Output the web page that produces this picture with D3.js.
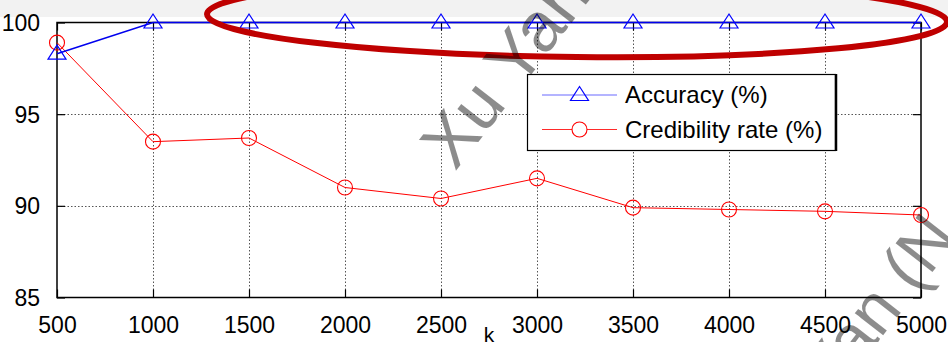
<!DOCTYPE html>
<html>
<head>
<meta charset="utf-8">
<script src="https://cdn.jsdelivr.net/npm/d3@7"></script>
<style>
  html, body { margin: 0; padding: 0; background: #fff; }
  svg { display: block; font-family: "Liberation Sans", Arial, sans-serif; }
</style>
</head>
<body>
<svg id="chart" width="948" height="342"></svg>
<script>
// Sample sizes k and the two measured rates (%)
const kValues = [500, 1000, 1500, 2000, 2500, 3000, 3500, 4000, 4500, 5000];
const accuracy = [98.3, 100, 100, 100, 100, 100, 100, 100, 100, 100];
const credibility = [98.9, 93.5, 93.7, 91.0, 90.4, 91.5, 89.9, 89.8, 89.7, 89.5];
const yTicks = [85, 90, 95, 100];
const seriesNames = ["Accuracy (%)", "Credibility rate (%)"];
const xTitle = "k";
const watermark = "Xu Yan";
const watermark2 = "Xu Yan (N";

const W = 948, H = 342;
const plot = { left: 57, right: 921, top: 22.5, bottom: 297.5 };

const svg = d3.select("#chart");

// faint grey strip along the top edge
svg.append("rect").attr("x", 0).attr("y", 0).attr("width", W).attr("height", 17).attr("fill", "#f2f2f2");

const x = d3.scaleLinear().domain([500, 5000]).range([plot.left, plot.right]);
const y = d3.scaleLinear().domain([85, 100]).range([plot.bottom, plot.top]);

// dotted grid
const grid = svg.append("g").attr("stroke", "#555").attr("stroke-width", 1).attr("stroke-dasharray", "1.5,2");
grid.selectAll("line.vx").data(kValues.slice(1, -1)).join("line")
  .attr("x1", d => Math.round(x(d)) + 0.5).attr("x2", d => Math.round(x(d)) + 0.5)
  .attr("y1", plot.top).attr("y2", plot.bottom);
grid.selectAll("line.hy").data(yTicks.slice(1, -1)).join("line")
  .attr("y1", d => Math.round(y(d)) + 0.5).attr("y2", d => Math.round(y(d)) + 0.5)
  .attr("x1", plot.left).attr("x2", plot.right);

// frame with inward ticks on all four sides
const tickLen = 8;
const axB = d3.axisBottom(x).tickValues(kValues).tickSize(-tickLen).tickPadding(tickLen + 11).tickFormat(d3.format("d"));
const axL = d3.axisLeft(y).tickValues(yTicks).tickSize(-tickLen).tickPadding(tickLen + 9);
const axT = d3.axisTop(x).tickValues(kValues).tickSize(-tickLen).tickFormat("");
const axR = d3.axisRight(y).tickValues(yTicks).tickSize(-tickLen).tickFormat("");

function styleAxis(g) {
  g.select(".domain").remove();
  g.selectAll(".tick line").attr("stroke", "#000").attr("stroke-width", 1.2);
  g.selectAll(".tick text").attr("fill", "#000").attr("font-size", 23).attr("font-family", "Liberation Sans, Arial, sans-serif");
}
svg.append("g").attr("transform", `translate(0,${plot.bottom})`).call(axB).call(styleAxis);
svg.append("g").attr("transform", `translate(${plot.left},0)`).call(axL).call(styleAxis)
  .selectAll(".tick text").attr("dy", "0.35em");
svg.append("g").attr("transform", `translate(0,${plot.top})`).call(axT).call(styleAxis);
svg.append("g").attr("transform", `translate(${plot.right},0)`).call(axR).call(styleAxis);

svg.append("rect")
  .attr("x", plot.left).attr("y", plot.top)
  .attr("width", plot.right - plot.left).attr("height", plot.bottom - plot.top)
  .attr("fill", "none").attr("stroke", "#000").attr("stroke-width", 1.5);

svg.append("text").attr("x", (plot.left + plot.right) / 2).attr("y", 342)
  .attr("text-anchor", "middle").attr("font-size", 21).attr("fill", "#000").text(xTitle);

// series
const line = d3.line().x(d => x(d[0])).y(d => y(d[1]));
const accPts = kValues.map((k, i) => [k, accuracy[i]]);
const credPts = kValues.map((k, i) => [k, credibility[i]]);

const triPath = "M0,-8.5 L9,5.5 L-9,5.5 Z";

svg.append("path").datum(credPts).attr("d", line).attr("fill", "none").attr("stroke", "#ff0000").attr("stroke-width", 1);
svg.append("g").selectAll("circle").data(credPts).join("circle")
  .attr("cx", d => x(d[0])).attr("cy", d => y(d[1])).attr("r", 7.5)
  .attr("fill", "none").attr("stroke", "#ff0000").attr("stroke-width", 1.1);

svg.append("path").datum(accPts).attr("d", line).attr("fill", "none").attr("stroke", "#0000ee").attr("stroke-width", 1.5);
svg.append("g").selectAll("path").data(accPts).join("path")
  .attr("transform", d => `translate(${x(d[0])},${y(d[1])})`).attr("d", triPath)
  .attr("fill", "none").attr("stroke", "#0000ff").attr("stroke-width", 1.2);

// legend
const lg = svg.append("g");
lg.append("rect").attr("x", 527.5).attr("y", 74.5).attr("width", 308).attr("height", 76)
  .attr("fill", "#fff").attr("stroke", "#000").attr("stroke-width", 1.2);
lg.append("line").attr("x1", 836).attr("x2", 836).attr("y1", 74).attr("y2", 151).attr("stroke", "#000").attr("stroke-width", 2.5);
const legendRows = [
  { name: seriesNames[0], color: "#0000ff", lineColor: "#6b6bff", marker: "tri", cy: 95 },
  { name: seriesNames[1], color: "#ff0000", lineColor: "#ff2a2a", marker: "circ", cy: 129.5 }
];
legendRows.forEach(r => {
  lg.append("line").attr("x1", 542).attr("x2", 617).attr("y1", r.cy).attr("y2", r.cy)
    .attr("stroke", r.lineColor).attr("stroke-width", 1.2);
  if (r.marker === "tri") {
    lg.append("path").attr("transform", `translate(579.5,${r.cy})`).attr("d", triPath)
      .attr("fill", "none").attr("stroke", r.color).attr("stroke-width", 1.2);
  } else {
    lg.append("circle").attr("cx", 579.5).attr("cy", r.cy).attr("r", 7.5)
      .attr("fill", "#fff").attr("stroke", r.color).attr("stroke-width", 1.1);
  }
  lg.append("text").attr("x", 625).attr("y", r.cy).attr("dy", "0.35em")
    .attr("font-size", 24).attr("fill", "#000").text(r.name);
});

// hand-drawn highlight ellipse around the top accuracy run
svg.append("ellipse").attr("cx", 577).attr("cy", 18).attr("rx", 370).attr("ry", 39)
  .attr("transform", "rotate(0.6,577,18)")
  .attr("fill", "none").attr("stroke", "#bf0000").attr("stroke-width", 6);

// author watermark
svg.append("text").attr("transform", "translate(455,172) rotate(-52)")
  .attr("font-size", 70).attr("fill", "#000").attr("fill-opacity", 0.45).text(watermark);
svg.append("text").attr("transform", "translate(770,480) rotate(-52)")
  .attr("font-size", 68).attr("fill", "#000").attr("fill-opacity", 0.45).text(watermark2);
</script>
</body>
</html>
